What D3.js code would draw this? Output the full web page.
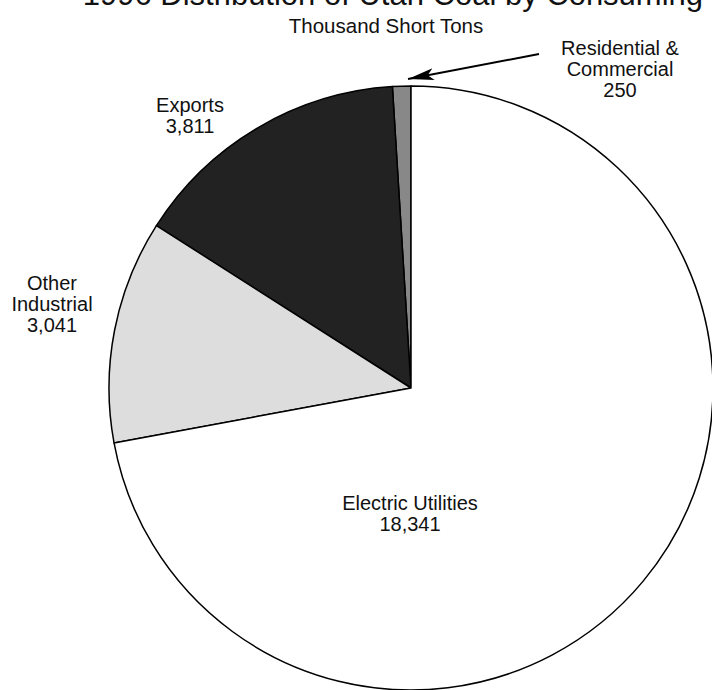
<!DOCTYPE html>
<html>
<head>
<meta charset="utf-8">
<script src="https://cdn.jsdelivr.net/npm/d3@7"></script>
<style>
  html, body { margin: 0; padding: 0; background: #fff; }
  svg { display: block; }
  text { font-family: "Liberation Sans", Arial, sans-serif; fill: #111; }
</style>
</head>
<body>
<svg id="chart" width="712" height="690"></svg>
<script>
const titleText = "1996 Distribution of Utah Coal by Consuming Sector";
const subtitleText = "Thousand Short Tons";
const categories = ["Residential & Commercial", "Exports", "Other Industrial", "Electric Utilities"];
const values = [250, 3811, 3041, 18341];
const colors = ["#888888", "#222222", "#dddddd", "#ffffff"];
const labelLines = [
  ["Residential &", "Commercial", "250"],
  ["Exports", "3,811"],
  ["Other", "Industrial", "3,041"],
  ["Electric Utilities", "18,341"]
];

const svg = d3.select("#chart");
const cx = 411, cy = 388, r = 302;

svg.append("text")
  .attr("x", 442).attr("y", 5)
  .attr("text-anchor", "middle")
  .style("font-size", "31px")
  .text(titleText);

svg.append("text")
  .attr("x", 386).attr("y", 33)
  .attr("text-anchor", "middle")
  .style("font-size", "20.5px")
  .text(subtitleText);

const data = categories.map((c, i) => ({ name: c, value: values[i], color: colors[i], lines: labelLines[i] }));

const pie = d3.pie().sort(null).value(d => d.value)
  .startAngle(0).endAngle(-2 * Math.PI);
const arc = d3.arc().innerRadius(0).outerRadius(r);

const g = svg.append("g").attr("transform", `translate(${cx},${cy})`);
g.selectAll("path")
  .data(pie(data))
  .join("path")
  .attr("d", arc)
  .attr("fill", d => d.data.color)
  .attr("stroke", "#000")
  .attr("stroke-width", 1.5)
  .attr("stroke-linejoin", "round");

// label positions (page coords of first line baseline)
const labelPos = [
  [620, 55],
  [190, 112],
  [52, 290],
  [410, 510]
];
const lineH = 21;
data.forEach((d, i) => {
  const t = svg.append("text")
    .attr("text-anchor", "middle")
    .style("font-size", "20px");
  d.lines.forEach((ln, j) => {
    t.append("tspan")
      .attr("x", labelPos[i][0])
      .attr("y", labelPos[i][1] + j * lineH)
      .text(ln);
  });
});

// arrow for residential
const defs = svg.append("defs");
defs.append("marker")
  .attr("id", "arrowhead")
  .attr("viewBox", "0 0 26 12")
  .attr("refX", 0).attr("refY", 6)
  .attr("markerWidth", 26).attr("markerHeight", 12)
  .attr("markerUnits", "userSpaceOnUse")
  .attr("orient", "auto")
  .append("path")
  .attr("d", "M0,6 L26,0 L20,6 L26,12 Z")
  .attr("fill", "#000");

svg.append("line")
  .attr("x1", 408).attr("y1", 79)
  .attr("x2", 539).attr("y2", 54)
  .attr("stroke", "#000")
  .attr("stroke-width", 2)
  .attr("marker-start", "url(#arrowhead)");
</script>
</body>
</html>
